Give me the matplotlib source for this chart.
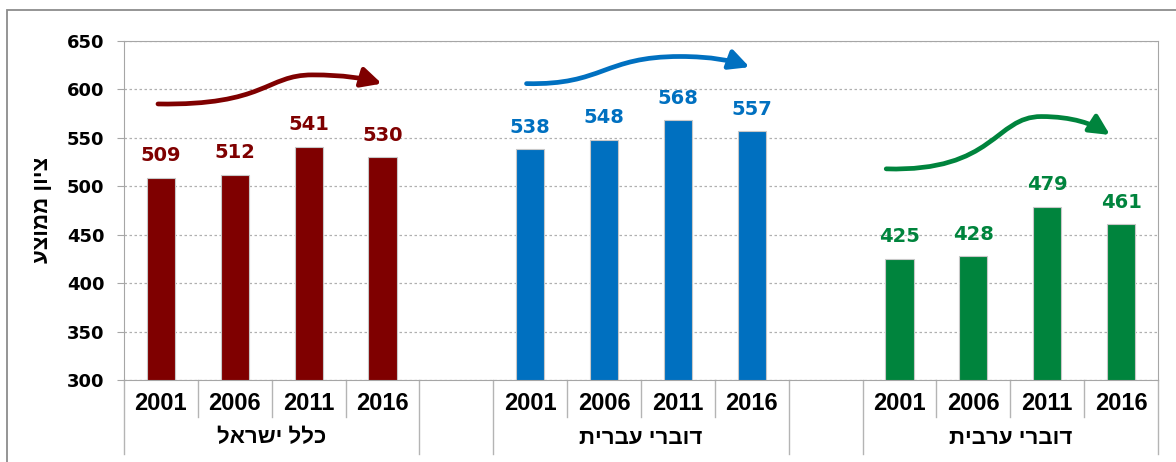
import matplotlib
matplotlib.use("Agg")
import matplotlib.pyplot as plt
from matplotlib.path import Path
from matplotlib.patches import FancyArrowPatch, Rectangle
import numpy as np

plt.rcParams['font.family'] = ['Liberation Sans', 'DejaVu Sans']

groups = ["כלל ישראל", "דוברי עברית", "דוברי ערבית"]
years = ["2001", "2006", "2011", "2016"]
all_israel = [509, 512, 541, 530]
hebrew = [538, 548, 568, 557]
arabic = [425, 428, 479, 461]
colors = ["#7f0000", "#0070c0", "#00843d"]
ylabel = "ציון ממוצע"

# trend arrows above each group: (start, peak, end) as x offset / score
arrow_x = [(-0.04, 2.05, 2.99), (-0.05, 2.03, 2.97), (-0.18, 1.92, 2.85)]
arrow_y = [(585, 615, 606), (606, 634, 623), (518, 572, 553)]
arrow_bend = [0.7, 0.5, 0.7]


def rtl(s):
    # matplotlib has no bidi support, draw hebrew reversed
    return s[::-1]


fig = plt.figure(figsize=(11.76, 4.62), dpi=100)
ax = fig.add_axes([124/1176, 82/462, 1034/1176, 339/462])

series = [all_israel, hebrew, arabic]
for g, vals in enumerate(series):
    x = np.arange(len(years)) + g*5
    ax.bar(x, vals, width=0.38, color=colors[g], edgecolor='#c8c8c8', lw=0.8, zorder=2)
    for xi, v in zip(x, vals):
        ax.annotate(str(v), (xi, v), xytext=(0, 9), textcoords='offset points',
                    ha='center', va='bottom', fontsize=14, fontweight='bold',
                    family='DejaVu Sans', color=colors[g])

    x0, xp, xe = [g*5 + v for v in arrow_x[g]]
    s, p, e = arrow_y[g]
    c = arrow_bend[g]
    verts = [(x0, s), (x0 + c*(xp - x0), s - 0.06*(p - s)), (x0 + c*(xp - x0), p), (xp, p),
             (xp + 0.45*(xe - xp), p), (xp + 0.75*(xe - xp), p - 0.4*(p - e)), (xe, e)]
    codes = [Path.MOVETO] + [Path.CURVE4]*6
    arr = FancyArrowPatch(path=Path(verts, codes), arrowstyle="-|>,head_length=0.6,head_width=0.3",
                          mutation_scale=20, lw=3.4, color=colors[g], transform=ax.transData,
                          clip_on=False, zorder=3)
    ax.add_patch(arr)

ax.set_xlim(-0.5, 13.5)
ax.set_ylim(300, 650)
ax.set_yticks(range(300, 651, 50))
ax.set_xticks([])
ax.tick_params(axis='y', length=5, color='#a6a6a6', labelsize=13, pad=9)
for lab in ax.get_yticklabels():
    lab.set_fontweight('bold')
    lab.set_family('DejaVu Sans')
ax.yaxis.grid(True, ls=(0, (2, 2)), color='#b0b0b0', lw=0.9)
ax.set_axisbelow(True)
for sp in ax.spines.values():
    sp.set_color('#a6a6a6')

fig.text(42/1176, 1 - 210/462, rtl(ylabel), rotation=90, ha='center', va='center',
         fontsize=16, fontweight='bold')

# multi-level category axis
trans = ax.get_xaxis_transform()
lc = '#b4b4b4'
for g in range(3):
    for i in range(1, 4):
        ax.plot([g*5 + i - 0.5]*2, [0, -37/339], transform=trans, color=lc, lw=1, clip_on=False)
    for xb in (g*5 - 0.5, g*5 + 3.5):
        ax.plot([xb]*2, [0, -74/339], transform=trans, color=lc, lw=1, clip_on=False)
    for i, yr in enumerate(years):
        ax.text(g*5 + i, -23/339, yr, transform=trans, ha='center', va='center',
                fontsize=17, fontweight='bold')
    ax.text(g*5 + 1.5, -58/339, rtl(groups[g]), transform=trans, ha='center', va='center',
            fontsize=16, fontweight='bold')

fig.patches.append(Rectangle((7/1176, -0.1), 1.2, 1.1 - 9.5/462, transform=fig.transFigure,
                             fill=False, ec='#8c8c8c', lw=1.3))

fig.savefig("out.png", dpi=100)
